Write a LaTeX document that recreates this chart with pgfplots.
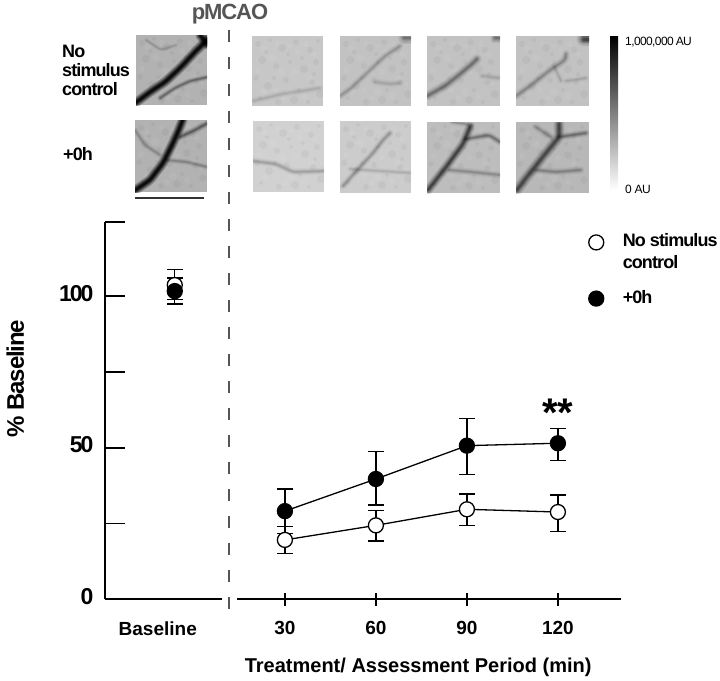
\documentclass[border=0pt]{standalone}
\usepackage{pgfplots}
\pgfplotsset{compat=1.18}
\usepackage{fontspec}
\setmainfont{Liberation Sans}
\newfontfamily\tight[LetterSpace=-5]{Liberation Sans}
\newfontfamily\tighter[LetterSpace=-9]{Liberation Sans}
\definecolor{dk}{HTML}{555555}
\pgfplotstableread{
x y ep em
30 19.6 4.4 4.4
60 24.4 4.8 5.2
90 29.7 5.0 5.3
120 28.8 5.6 6.4
}\opentab
\pgfplotstableread{
x y ep em
30 29.1 7.3 7.3
60 39.7 9.1 8.6
90 50.7 8.9 9.5
120 51.5 4.9 5.6
}\filledtab
\pgfplotstableread{
x y ep em
-6.3 103.7 5.2 4.7
}\openbase
\pgfplotstableread{
x y ep em
-6.3 101.7 4.3 4.3
}\filledbase
\pgfplotsset{ebar/.style={error bars/.cd,y dir=both,y explicit,
  error mark options={rotate=90,mark size=8pt,line width=1.3pt},error bar style={line width=1.3pt}}}
% px = 1pt, origin top-left
\newcommand\vein[3]{%
  \begin{scope}[black,line cap=round,line join=round,rounded corners=3pt]
  \draw[opacity=.10*#1,line width=2.4*#2] #3;
  \draw[opacity=.12*#1,line width=1.8*#2] #3;
  \draw[opacity=.15*#1,line width=1.3*#2] #3;
  \draw[opacity=.20*#1,line width=.9*#2] #3;
  \draw[opacity=.25*#1,line width=.5*#2] #3;
  \end{scope}}
\newcommand\speck{%
  \foreach \a/\b/\r in {6/8/3,18/4/2,30/12/4,44/6/3,58/14/3,66/5/2,10/24/4,24/30/3,38/26/2,52/33/4,64/26/3,4/42/3,16/50/4,34/44/3,47/54/2,60/46/3,68/58/4,8/62/2,26/66/3,42/64/4,56/66/2,14/16/2,36/18/2,50/22/2,22/42/2,62/38/2}
    {\fill[black,opacity=.035] (\a,\b) circle (\r);}
  \foreach \a/\b/\r in {12/12/3,26/8/3,38/10/2,54/8/3,20/22/4,46/16/3,62/18/3,6/34/3,30/36/4,42/36/3,58/42/3,12/56/3,24/54/3,38/56/4,52/60/3,66/48/2,32/62/3}
    {\fill[white,opacity=.06] (\a,\b) circle (\r);}}
\newcommand\panel[6]{%
  \begin{scope}[shift={(#1,#2)}]
    \fill[black!#5] (0,0) rectangle (#3,#4);
    \clip (0,0) rectangle (#3,#4);
    \speck
    #6
  \end{scope}}
\begin{document}
\begin{tikzpicture}[x=1pt,y=-1pt]
\path[use as bounding box] (0,0) rectangle (720,680);
% panels row 1
\panel{136}{35}{71}{70}{30}{%
  \vein{2.4}{4}{(-2,69)--(14,57)--(29,47)--(44,33)--(59,17)--(73,3)}
  \vein{2.2}{4}{(64,0)--(72,10)}
  \vein{.6}{2.5}{(24,63)--(39,53)--(54,46)--(72,42)}
  \vein{.2}{2}{(10,5)--(25,15)--(40,10)}}
\panel{252}{36}{71}{70}{22}{%
  \vein{.15}{3}{(1,65)--(30,58)--(50,55)--(68,52)}}
\panel{340}{36}{71}{70}{24}{%
  \vein{.3}{3}{(0,60)--(10,53)--(27,37)--(45,20)--(60,10)}
  \vein{.18}{3}{(35,46)--(50,48)--(60,47)}
  \vein{.6}{5}{(64,2)--(71,2)}}
\panel{427}{36}{73}{70}{24}{%
  \vein{.6}{4}{(0,60)--(18,50)--(33,38)--(45,28)--(50,23)}
  \vein{.18}{3}{(55,40)--(72,42)}
  \vein{.6}{4}{(68,2)--(73,2)}}
\panel{516}{36}{73}{70}{24}{%
  \vein{.4}{3.5}{(0,60)--(14,50)--(34,34)--(49,24)--(50,18)}
  \vein{.18}{2.5}{(38,30)--(45,45)}
  \vein{.18}{2.5}{(50,45)--(70,42)}
  \vein{1.1}{6}{(68,3)--(73,3)}}
% panels row 2
\panel{135}{120}{72}{72}{30}{%
  \vein{2.4}{4}{(-1,71)--(15,60)--(28,43)--(38,23)--(45,7)--(48,-1)}
  \vein{.7}{3}{(45,17)--(60,10)--(73,3)}
  \vein{.35}{2.5}{(32,40)--(52,42)--(72,47)}
  \vein{.3}{2.5}{(0,10)--(10,25)--(25,35)}}
\panel{253}{121}{71}{71}{18}{%
  \vein{.28}{3}{(0,40)--(23,43)--(40,51)--(71,50)}}
\panel{340}{121}{71}{72}{20}{%
  \vein{.35}{3}{(3,65)--(20,46)--(33,32)--(43,19)--(50,12)}
  \vein{.18}{2.5}{(10,48)--(40,50)--(71,52)}}
\panel{427}{122}{73}{71}{26}{%
  \vein{1.1}{4}{(1,68)--(19,45)--(36,22)--(43,5)}
  \vein{.55}{3}{(39,17)--(62,13)--(73,20)}
  \vein{.35}{3}{(22,48)--(45,50)--(73,53)}
  \vein{.3}{2.5}{(25,0)--(45,3)}}
\panel{516}{122}{73}{71}{28}{%
  \vein{1}{4.5}{(1,68)--(10,56)--(30,31)--(43,15)--(43,2)}
  \vein{.55}{3}{(43,15)--(70,11)}
  \vein{.4}{3}{(20,48)--(40,50)--(65,48)}
  \vein{.35}{3}{(20,5)--(35,15)}}
% scale bar and colour bar
\draw[black!80,line width=1.4pt] (135,198) -- (204,198);
\shade[top color=black,bottom color=white,middle color=black!50] (610,36) rectangle (618,190);
\node[anchor=west,inner sep=0pt] at (625,42) {\tight\fontsize{12}{14}\selectfont 1,000,000\,AU};
\node[anchor=west,inner sep=0pt] at (625,189) {\tight\fontsize{12}{14}\selectfont 0 AU};
% panel labels
\node[anchor=north west,inner sep=0pt,align=left,font=\tight\bfseries\fontsize{18}{19}\selectfont] at (62,45) {No\\stimulus\\control};
\node[anchor=west,inner sep=0pt] at (63,154) {\tight\bfseries\fontsize{18}{20}\selectfont +0h};
\node[anchor=center,inner sep=0pt,text=dk] at (230,14) {\tight\bfseries\fontsize{22}{24}\selectfont pMCAO};
% x axis with data
\begin{axis}[
  at={(105pt,-599.3pt)},anchor=south west,scale only axis,
  width=516pt,height=377.3pt,
  xmin=-29.3,xmax=140.8,ymin=0,ymax=124.5,
  axis x line=bottom,axis y line=none,
  axis line style={-,line width=2pt,black},
  xtick={30,60,90,120},
  xticklabels={30,60,90,120},
  xtick align=center,
  major tick length=13pt,
  x tick style={black,line width=1.5pt},
  ytick=\empty,
  extra x ticks={-11.9},
  extra x tick labels={Baseline},
  extra x tick style={tick style={draw=none},tick label style={font=\bfseries\fontsize{20}{22}\selectfont}},
  x tick label style={font=\bfseries\fontsize{19}{20}\selectfont,yshift=-12pt},
  xlabel={Treatment/ Assessment Period (min)},
  xlabel style={font=\bfseries\fontsize{20}{22}\selectfont,at={(axis description cs:0.607,-0.179)},anchor=center},
  clip=false,
  legend style={at={(axis description cs:0.9375,0.978)},anchor=north west,draw=none,fill=none,
    inner sep=0pt,outer sep=0pt,row sep=36pt,column sep=19pt,nodes={inner sep=0pt},
    font=\tight\bfseries\fontsize{18}{22.5}\selectfont,cells={anchor=base west}},
  legend cell align=left,
  legend columns=1,
]
\addplot[black,line width=1.3pt,forget plot,mark=*,mark size=7.5pt,mark options={fill=white,line width=1.3pt},ebar]
  table[x=x,y=y,y error plus=ep,y error minus=em]{\opentab};
\addplot[black,line width=1.3pt,forget plot,mark=*,mark size=7.5pt,mark options={fill=black,line width=1.3pt},ebar]
  table[x=x,y=y,y error plus=ep,y error minus=em]{\filledtab};
\addplot[black,only marks,mark=*,mark size=7.5pt,mark options={fill=white,line width=1.3pt},ebar]
  table[x=x,y=y,y error plus=ep,y error minus=em]{\openbase};
\addlegendentry{\raisebox{7pt}{\begin{tabular}[t]{@{}l@{}}No stimulus\\control\end{tabular}}}
\addplot[black,only marks,mark=*,mark size=7.5pt,mark options={fill=black,line width=1.3pt},ebar]
  table[x=x,y=y,y error plus=ep,y error minus=em]{\filledbase};
\addlegendentry{\raisebox{1.5pt}{+0h}}
\node[inner sep=0pt] at (axis cs:120,61.7) {\bfseries\fontsize{40}{40}\selectfont **};
\end{axis}
% y axis
\begin{axis}[
  at={(105pt,-599.3pt)},anchor=south west,scale only axis,
  width=516pt,height=377.3pt,
  xmin=-29.3,xmax=140.8,ymin=0,ymax=124.5,
  axis y line=left,axis x line=none,
  axis line style={-,line width=2pt,black},
  ytick={0,25,50,75,100,124.5},
  yticklabels={0,,50,,100,},
  xtick=\empty,
  ytick align=inside,
  major tick length=20pt,
  y tick style={black,line width=1.7pt},
  y tick label style={font=\tighter\bfseries\fontsize{23}{24}\selectfont,yshift=3pt,xshift=-8pt},
  ylabel={\% Baseline},
  ylabel style={font=\tight\bfseries\fontsize{24}{26}\selectfont,at={(axis description cs:-0.174,0.585)},anchor=center},
]
\end{axis}
% break in the x axis and pMCAO line
\draw[white,line width=4pt] (222,599.3) -- (236.5,599.3);
\draw[dk,line width=1.8pt,dash pattern=on 12pt off 15pt] (229,30) -- (229,612);
\end{tikzpicture}
\end{document}
